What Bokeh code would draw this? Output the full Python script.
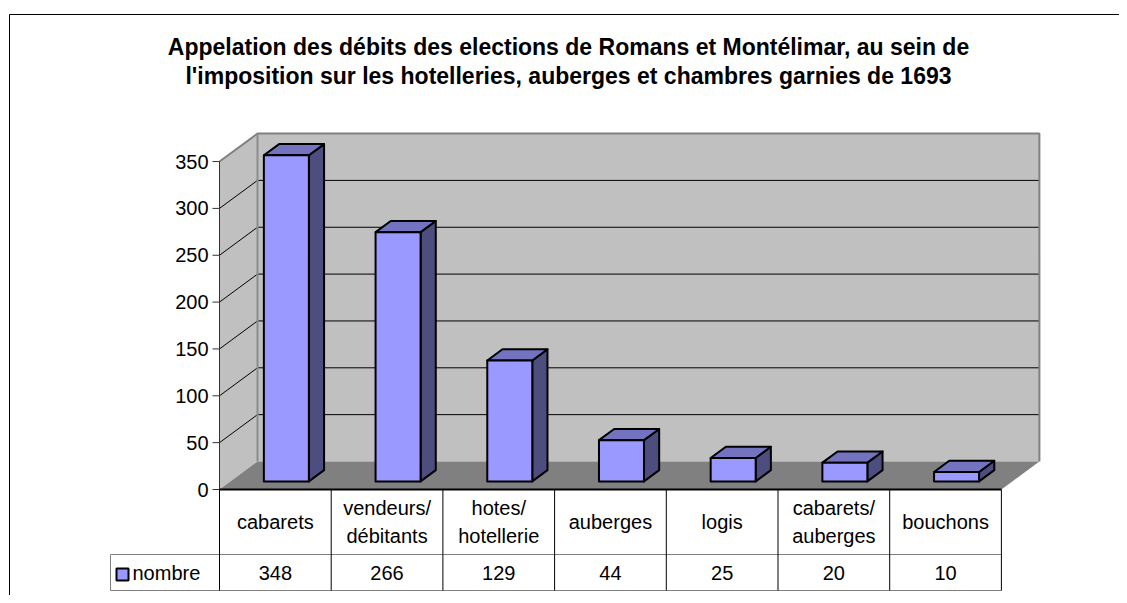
from bokeh.plotting import figure
from bokeh.models import Range1d
from bokeh.core.properties import value
from bokeh.embed import file_html
from bokeh.resources import INLINE

# ---------------- data ----------------
categories = [["cabarets"], ["vendeurs/", "débitants"], ["hotes/", "hotellerie"],
              ["auberges"], ["logis"], ["cabarets/", "auberges"], ["bouchons"]]
values = [348, 266, 129, 44, 25, 20, 10]
series_name = "nombre"
y_ticks = [0, 50, 100, 150, 200, 250, 300, 350]
title_lines = ["Appelation des débits des elections de Romans et Montélimar, au sein de",
               "l'imposition sur les hotelleries, auberges et chambres garnies de 1693"]

# ---------------- layout ----------------
W, H = 1119, 595
PAGE = 0
COL_PX = 111.7          # pixels per category column
VAL_PX = 0.937          # pixels per value unit
X0, Y0 = 219, 489       # page position of (column 0, value 0)
DEPTH_X, DEPTH_Y = 38, 28   # 3D depth offset in pixels
YMAX = 350
FONT = value("Liberation Sans")

def ux(px):  # page x -> data x
    return (px - X0) / COL_PX

def vy(py):  # page y -> data y
    return (Y0 - py) / VAL_PX

DU = DEPTH_X / COL_PX
DV = DEPTH_Y / VAL_PX
N = len(values)

p = figure(width=W, height=H, output_backend="svg", toolbar_location=None,
           x_range=Range1d(ux(PAGE), ux(PAGE + W)), y_range=Range1d(vy(PAGE + H), vy(PAGE)),
           x_axis_type=None, y_axis_type=None, min_border=0)
p.outline_line_color = None
p.grid.visible = False
p.background_fill_color = "white"

# chart border
p.line([ux(9), ux(9), ux(1140)], [vy(640), vy(14), vy(14)], line_color="black", line_width=1)

# title
for k, t in enumerate(title_lines):
    p.text([ux(568)], [vy(46 + 29 * k)], text=[t], text_font=FONT, text_font_size=value("23px"),
           text_font_style="bold", text_align="center", text_baseline="middle", text_color="black")

# side wall
p.patch([0, 0, DU, DU], [0, YMAX, YMAX + DV, DV], fill_color="#c0c0c0", line_color=None)
# back wall
p.patch([DU, N + DU, N + DU, DU], [DV, DV, YMAX + DV, YMAX + DV], fill_color="#c0c0c0", line_color=None)
# floor
p.patch([0, N, N + DU, DU], [0, 0, DV, DV], fill_color="#808080", line_color=None)

# gridlines
for t in y_ticks[1:-1]:
    p.line([0, DU, N + DU], [t, t + DV, t + DV], line_color="black", line_width=1)
# wall edges
p.line([0, DU, N + DU, N + DU], [YMAX, YMAX + DV, YMAX + DV, DV], line_color="#808080", line_width=2)
p.line([DU, DU], [DV, YMAX + DV], line_color="#8c8c8c", line_width=2)

# bars
half = 22.5 / COL_PX
d0, d1 = 0.29, 0.69
du0, dv0, du1, dv1 = DU * d0, DV * d0, DU * d1, DV * d1
fx, fy, tx, ty, sx, sy = [], [], [], [], [], []
for i, v in enumerate(values):
    c = i + 0.5
    l, r = c - half, c + half
    fx.append([l + du0, r + du0, r + du0, l + du0]); fy.append([dv0, dv0, dv0 + v, dv0 + v])
    tx.append([l + du0, r + du0, r + du1, l + du1]); ty.append([dv0 + v, dv0 + v, dv1 + v, dv1 + v])
    sx.append([r + du0, r + du1, r + du1, r + du0]); sy.append([dv0, dv1, dv1 + v, dv0 + v])
p.patches(sx, sy, fill_color="#4d4d80", line_color="black", line_width=2, line_join="round")
p.patches(tx, ty, fill_color="#7373bf", line_color="black", line_width=2, line_join="round")
p.patches(fx, fy, fill_color="#9999ff", line_color="black", line_width=2, line_join="round")

# value axis
p.line([0, 0], [0, YMAX], line_color="#333333", line_width=1)
for t in y_ticks:
    p.line([ux(212), 0], [t, t], line_color="#333333", line_width=1)
p.text([ux(208)] * len(y_ticks), y_ticks, text=[str(t) for t in y_ticks], text_font=FONT,
       text_font_size=value("20px"), text_align="right", text_baseline="middle", text_color="black")

# floor front edge
p.line([0, N], [0, 0], line_color="black", line_width=2)

# data table
row1 = vy(554)
row2 = vy(590)
leg_l = ux(110)
p.line([leg_l, N], [row1, row1], line_color="#808080", line_width=1)
p.line([leg_l, N], [row2, row2], line_color="#808080", line_width=1)
p.line([leg_l, leg_l], [row1, row2], line_color="#808080", line_width=1)
for i in range(N + 1):
    p.line([i, i], [0, row2], line_color="black", line_width=1)

for i, lab in enumerate(categories):
    if len(lab) == 1:
        p.text([i + 0.5], [vy(521)], text=lab, text_font=FONT, text_font_size=value("20px"),
               text_align="center", text_baseline="middle", text_color="black")
    else:
        for k, s in enumerate(lab):
            p.text([i + 0.5], [vy(507 + 28 * k)], text=[s], text_font=FONT, text_font_size=value("20px"),
                   text_align="center", text_baseline="middle", text_color="black")
p.text([i + 0.5 for i in range(N)], [(row1 + row2) / 2] * N, text=[str(v) for v in values],
       text_font=FONT, text_font_size=value("20px"), text_align="center", text_baseline="middle",
       text_color="black")

# legend key
p.quad(left=[ux(116)], right=[ux(128)], top=[vy(568)], bottom=[vy(580)],
       fill_color="#9999ff", line_color="black", line_width=2)
p.text([ux(132)], [(row1 + row2) / 2], text=[series_name], text_font=FONT, text_font_size=value("20px"),
       text_align="left", text_baseline="middle", text_color="black")

open("out.html", "w").write(file_html(p, INLINE))
